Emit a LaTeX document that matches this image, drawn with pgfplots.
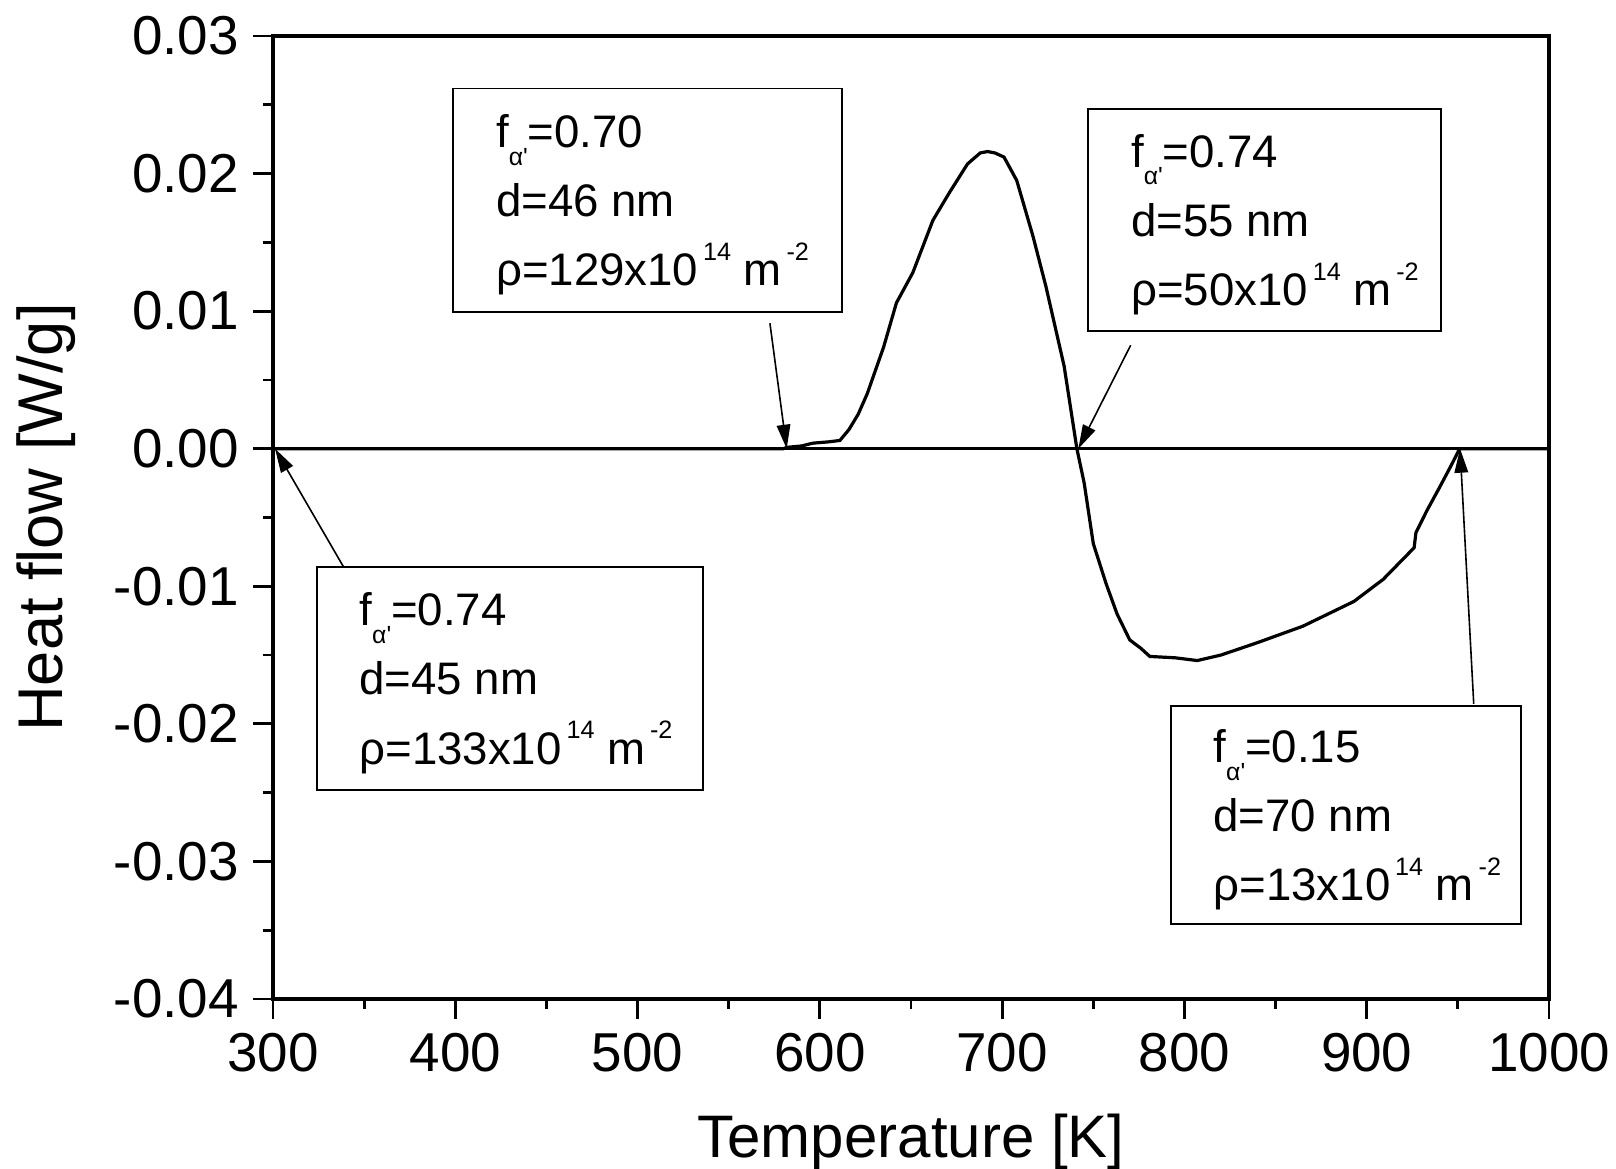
\documentclass[border=0pt]{standalone}
\usepackage{fontspec}
\setmainfont{Liberation Sans}
\usepackage{pgfplots}
\pgfplotsset{compat=1.18}
\usetikzlibrary{arrows.meta,calc}

% f with alpha-prime subscript, and small superscripts
\newcommand{\fa}{f\raisebox{-4.4pt}{\fontsize{6.2}{7}\selectfont α\textquotesingle}}
\newcommand{\sups}[1]{\kern1.2pt\raisebox{6.4pt}{\fontsize{6.3}{7}\selectfont #1}}

\begin{document}
\begin{tikzpicture}
\begin{axis}[
  scale only axis, width=319pt, height=240.75pt,
  xmin=300, xmax=1000, ymin=-0.04, ymax=0.03,
  xtick={300,400,500,600,700,800,900,1000},
  ytick={-0.04,-0.03,-0.02,-0.01,0,0.01,0.02,0.03},
  minor x tick num=1, minor y tick num=1,
  tick align=outside, xtick pos=bottom, ytick pos=left,
  major tick length=5pt, minor tick length=2.5pt,
  every tick/.style={black, line width=0.7pt},
  axis line style={line width=0.8pt},
  scaled y ticks=false,
  yticklabel style={/pgf/number format/fixed, /pgf/number format/fixed zerofill, /pgf/number format/precision=2},
  xticklabel style={/pgf/number format/1000 sep={}},
  /pgf/number format/assume math mode=true,
  tick label style={font=\fontsize{13.7}{16}\selectfont},
  xlabel={Temperature [K]}, ylabel={Heat flow [W/g]},
  xlabel style={font=\fontsize{15}{18}\selectfont, at={(axis description cs:0.5,-0.1485)}, anchor=center},
  ylabel style={font=\fontsize{15.8}{18}\selectfont, at={(axis description cs:-0.1776,0.5)}, anchor=center},
]
% baseline
\addplot[black, line width=0.8pt] coordinates {(300,0) (1000,0)};
% DSC curve
\addplot[black, line width=0.8pt] coordinates {
  (300,0) (580,0) (582,0.0001) (590,0.0002) (596,0.0004) (605,0.0005)
  (611,0.0006) (616,0.0014) (621,0.0025) (626,0.0040) (635,0.0074)
  (642,0.0106) (651,0.0128) (662,0.0166) (671,0.0186) (681,0.0207)
  (688,0.0215) (692,0.0216) (696,0.0215) (701,0.0212) (708,0.0195)
  (717,0.0154) (724,0.0118) (734,0.0060) (741,0.0) (745,-0.0025)
  (750,-0.0069) (757,-0.0098) (763,-0.0120) (770,-0.0139) (776,-0.0145)
  (781,-0.0151) (795,-0.0152) (807,-0.0154) (820,-0.0150) (840,-0.0141)
  (865,-0.0129) (893,-0.0111) (909,-0.0095) (926,-0.0072) (927,-0.0061)
  (933,-0.0045) (940,-0.0028) (946,-0.0013) (951,0.0) (1000,0)
};

% annotation boxes
\tikzset{lbl/.style={anchor=west, align=left, inner sep=0pt, xshift=10.5pt, yshift=-1.2pt,
  font=\fontsize{11.4}{17.3}\selectfont},
  arr/.style={line width=0.4pt, -{Triangle[length=6pt,width=3.4pt]}}}

\draw[line width=0.45pt] (axis cs:398.9,0.02618) rectangle (axis cs:612.3,0.00996);
\node[lbl] at (axis cs:398.9,0.01807) {\fa=0.70\\d=46 nm\\ρ=129x10\sups{14} m\sups{-2}};
\draw[arr] (axis cs:572.6,0.00912) -- (axis cs:581.8,0);

\draw[line width=0.45pt] (axis cs:747.3,0.02468) rectangle (axis cs:940.6,0.00858);
\node[lbl] at (axis cs:747.3,0.01663) {\fa=0.74\\d=55 nm\\ρ=50x10\sups{14} m\sups{-2}};
\draw[arr] (axis cs:770.5,0.00752) -- (axis cs:741.8,0);

\draw[line width=0.45pt] (axis cs:324.0,-0.00857) rectangle (axis cs:535.7,-0.02480);
\node[lbl] at (axis cs:324.0,-0.016685) {\fa=0.74\\d=45 nm\\ρ=133x10\sups{14} m\sups{-2}};
\draw[arr] (axis cs:338.6,-0.00857) -- (axis cs:301.1,0);

\draw[line width=0.45pt] (axis cs:792.5,-0.01869) rectangle (axis cs:984.7,-0.03457);
\node[lbl] at (axis cs:792.5,-0.02663) {\fa=0.15\\d=70 nm\\ρ=13x10\sups{14} m\sups{-2}};
\draw[arr] (axis cs:958.7,-0.01854) -- (axis cs:951.2,0);
\end{axis}
\pgfresetboundingbox
\path[use as bounding box] ($(current axis.south west)+(-68.25pt,-42.5pt)$) rectangle ($(current axis.north east)+(16.75pt,9pt)$);
\end{tikzpicture}
\end{document}
